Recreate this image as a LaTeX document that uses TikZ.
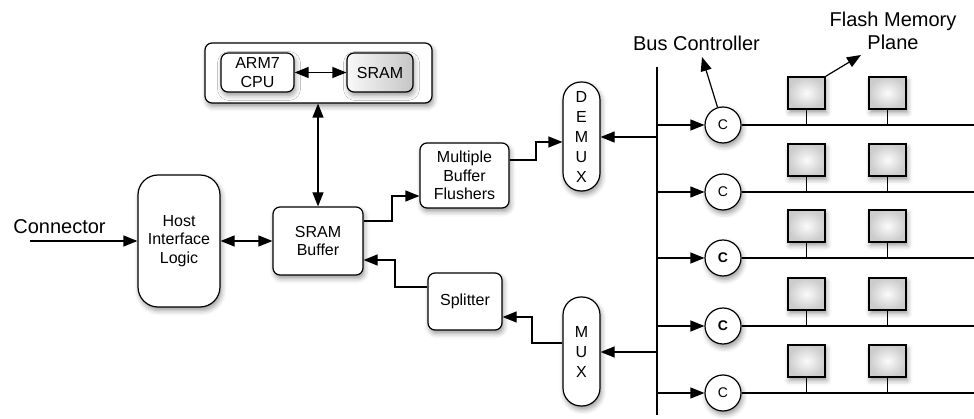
\documentclass[tikz,border=0pt]{standalone}
\usepackage{fontspec}
\setmainfont{Liberation Sans}
\usetikzlibrary{arrows.meta,shadows.blur}

\begin{document}
\begin{tikzpicture}[x=1pt,y=-1pt,
  line width=1.2pt,
  shade/.style={blur shadow={shadow xshift=1.5pt,shadow yshift=-3.5pt,shadow blur radius=5pt,shadow opacity=40}},
  box/.style={draw,rounded corners=7pt,fill=white,inner sep=0pt,align=center,
    font=\fontsize{16}{18.5}\selectfont,shade},
  pill/.style={box,rounded corners=18pt,minimum width=37pt,minimum height=109pt,
    font=\fontsize{16}{20}\selectfont},
  ctrl/.style={draw,circle,fill=white,inner sep=0pt,minimum size=36pt,
    font=\fontsize{14}{14}\selectfont,shade},
  plane/.style={draw,inner sep=0pt,minimum width=37pt,minimum height=32pt,
    shading=radial,inner color=white!97!gray,outer color=gray!40,shade},
  lbl/.style={align=center,font=\fontsize{20}{23}\selectfont},
  tip/.style={-{Triangle[length=14pt,width=11pt]}},
  dtip/.style={{Triangle[length=14pt,width=11pt]}-{Triangle[length=14pt,width=11pt]}}
]
\useasboundingbox (0,0) rectangle (974,419);

% processor block
\node[box,minimum width=227pt,minimum height=60pt] (proc) at (318.5,73) {};
\node[box,minimum width=73pt,minimum height=39pt] (cpu) at (257.5,72.5) {ARM7\\CPU};
\node[box,minimum width=66pt,minimum height=39pt,left color=white!95!gray,right color=gray!45]
  (sram) at (380,72.5) {SRAM};
\draw[dtip] (cpu) -- (sram);

% host side
\node[lbl] (conn) at (59.5,227) {Connector};
\coordinate (cin) at (30,241);
\node[box,rounded corners=20pt,minimum width=82pt,minimum height=132pt] (host) at (179,241)
  {Host\\Interface\\Logic};
\node[box,minimum width=90pt,minimum height=68pt] (buf) at (318,241) {SRAM\\Buffer};
\draw[tip] (cin) -- (host.west |- cin);
\draw[dtip] (host) -- (buf);
\draw[dtip] (buf.north) -- (proc.south -| buf.north);

% flush and split paths
\node[box,minimum width=89pt,minimum height=65pt] (flush) at (464.5,175.5) {Multiple\\Buffer\\Flushers};
\node[box,minimum width=74pt,minimum height=57pt] (split) at (465,301.5) {Splitter};
\node[pill] (demux) at (581.5,136.5) {D\\E\\M\\U\\X};
\node[pill] (mux) at (581.5,351.5) {M\\U\\X};

\draw[tip] (buf.east |- 0,221) -| (392,196) -- (flush.west |- 0,196);
\draw[tip] (flush.east |- 0,160) -| (536,142) -- (demux.west |- 0,142);
\draw[tip] (mux.west |- 0,343) -| (532,317) -- (split.east |- 0,317);
\draw[tip] (split.west |- 0,287) -| (395,260) -- (buf.east |- 0,260);

% bus
\coordinate (bustop) at (657,67);
\coordinate (busbot) at (657,415);
\draw (bustop) -- (busbot);
\draw[tip] (bustop |- 0,137) -- (demux.east |- 0,137);
\draw[tip] (bustop |- 0,352) -- (mux.east |- 0,352);

% channels: controller and two flash planes each
\foreach \i/\y/\f in {1/125/\mdseries,2/192/\mdseries,3/258/\bfseries,4/326/\bfseries,5/393/\mdseries}{
  \node[ctrl] (c\i) at (723,\y) {\f C};
  \coordinate (e\i) at (974,\y);
  \draw[tip] (bustop |- c\i) -- (c\i);
  \draw (c\i) -- (e\i);
  \node[plane] (pa\i) at (806.5,\y-32) {};
  \node[plane] (pb\i) at (887.5,\y-32) {};
  \draw (pa\i.south) -- (pa\i.south |- c\i);
  \draw (pb\i.south) -- (pb\i.south |- c\i);
}

% callouts
\node[lbl] (buslbl) at (696.5,43) {Bus Controller};
\node[lbl] (fmlbl) at (893,31) {Flash Memory\\Plane};
\coordinate (bct) at (702,57);
\coordinate (fmt) at (861,55);
\draw[tip] (c1) -- (bct);
\draw[tip] (pa1.north east) -- (fmt);
\end{tikzpicture}
\end{document}
